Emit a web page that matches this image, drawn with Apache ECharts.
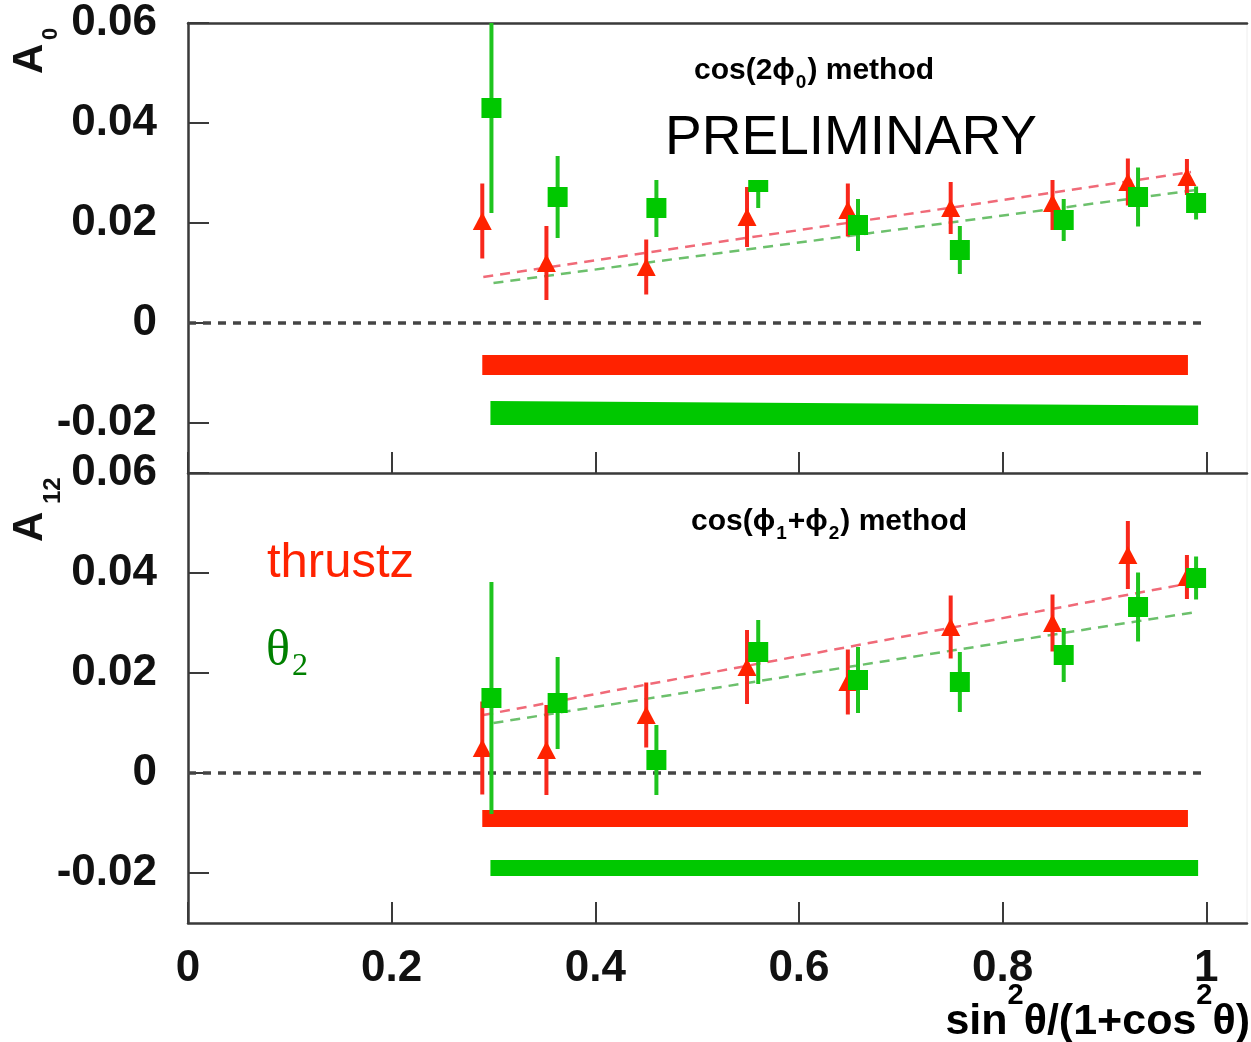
<!DOCTYPE html>
<html>
<head>
<meta charset="utf-8">
<script src="https://cdn.jsdelivr.net/npm/echarts@6/dist/echarts.min.js"></script>
<style>
  html, body { margin: 0; padding: 0; background: #fff; }
  #chart { width: 1251px; height: 1042px; }
</style>
</head>
<body>
<div id="chart"></div>
<script>
// Axis ticks
const xTicks = [0, 0.2, 0.4, 0.6, 0.8, 1];
const yTicks = [-0.02, 0, 0.02, 0.04, 0.06];

// cos(2phi0) method: thrust-axis (red) and theta2 (green) asymmetries
const thrustA0X   = [0.289, 0.352, 0.450, 0.549, 0.648, 0.749, 0.849, 0.923, 0.981];
const thrustA0Y   = [0.0204, 0.0120, 0.0112, 0.0212, 0.0226, 0.0230, 0.0240, 0.0282, 0.0292];
const thrustA0Err = [0.0075, 0.0074, 0.0055, 0.0060, 0.0053, 0.0052, 0.0054, 0.0047, 0.0036];
const thetaA0X    = [0.298, 0.363, 0.460, 0.560, 0.658, 0.758, 0.860, 0.933, 0.990];
const thetaA0Y    = [0.0430, 0.0252, 0.0230, 0.0282, 0.0196, 0.0146, 0.0206, 0.0252, 0.0240];
const thetaA0Err  = [0.0210, 0.0082, 0.0058, 0.0052, 0.0052, 0.0048, 0.0042, 0.0059, 0.0033];
const thrustA0Fit = [[0.290, 0.0092], [0.985, 0.0302]];
const thetaA0Fit  = [[0.300, 0.0080], [0.990, 0.0266]];
// systematic bands: [xStart, xEnd, lowStart, highStart, lowEnd, highEnd]
const thrustA0Sys = [0.289, 0.982, -0.0104, -0.0064, -0.0104, -0.0064];
const thetaA0Sys  = [0.297, 0.992, -0.0204, -0.0156, -0.0204, -0.0165];

// cos(phi1+phi2) method
const thrustA12X   = [0.289, 0.352, 0.450, 0.549, 0.648, 0.749, 0.849, 0.923, 0.981];
const thrustA12Y   = [0.0050, 0.0046, 0.0116, 0.0212, 0.0182, 0.0292, 0.0300, 0.0436, 0.0392];
const thrustA12Err = [0.0093, 0.0090, 0.0065, 0.0074, 0.0065, 0.0063, 0.0057, 0.0068, 0.0044];
const thetaA12X    = [0.298, 0.363, 0.460, 0.560, 0.658, 0.758, 0.860, 0.933, 0.990];
const thetaA12Y    = [0.0150, 0.0140, 0.0026, 0.0242, 0.0186, 0.0182, 0.0236, 0.0332, 0.0390];
const thetaA12Err  = [0.0232, 0.0092, 0.0070, 0.0064, 0.0066, 0.0060, 0.0054, 0.0069, 0.0043];
const thrustA12Fit = [[0.290, 0.0116], [0.985, 0.0380]];
const thetaA12Fit  = [[0.300, 0.0100], [0.990, 0.0322]];
const thrustA12Sys = [0.289, 0.982, -0.0108, -0.0074, -0.0108, -0.0074];
const thetaA12Sys  = [0.297, 0.992, -0.0206, -0.0174, -0.0206, -0.0174];

const zeroLine = [[0, 0], [1, 0]];

const RED = '#ff2200';
const RED_BAR = '#f8281c';
const GREEN = '#00c800';
const GREEN_BAR = '#1ec41e';
const AXIS = '#3a3a3a';
const FONT = 'Liberation Sans, Arial, Helvetica, sans-serif';

function zip(xs, ys, es) {
  return xs.map((x, i) => es ? [x, ys[i], es[i]] : [x, ys[i]]);
}

function errorBarItem(params, api) {
  const x = api.value(0), y = api.value(1), e = api.value(2);
  const p1 = api.coord([x, y + e]);
  const p2 = api.coord([x, y - e]);
  return {
    type: 'line',
    shape: { x1: p1[0], y1: p1[1], x2: p2[0], y2: p2[1] },
    style: { stroke: api.visual('color'), lineWidth: 4 }
  };
}

function bandItem(params, api) {
  const x0 = api.value(0), x1 = api.value(1);
  const pts = [
    api.coord([x0, api.value(3)]),
    api.coord([x1, api.value(5)]),
    api.coord([x1, api.value(4)]),
    api.coord([x0, api.value(2)])
  ];
  return { type: 'polygon', shape: { points: pts }, style: { fill: api.visual('color') } };
}

function panelSeries(idx, d) {
  const ax = { xAxisIndex: idx === 0 ? 0 : 2, yAxisIndex: idx };
  return [
    { type: 'custom', ...ax, renderItem: bandItem, data: [d.rSys], itemStyle: { color: RED }, z: 1, silent: true },
    { type: 'custom', ...ax, renderItem: bandItem, data: [d.gSys], itemStyle: { color: GREEN }, z: 1, silent: true },
    { type: 'line', ...ax, data: zeroLine, symbol: 'none', silent: true, z: 2,
      lineStyle: { color: '#444', width: 3.5, type: [8, 7] } },
    { type: 'line', ...ax, data: d.rFit, symbol: 'none', silent: true, z: 2,
      lineStyle: { color: '#f06a78', width: 2.5, type: [10, 7] } },
    { type: 'line', ...ax, data: d.gFit, symbol: 'none', silent: true, z: 2,
      lineStyle: { color: '#6cc06c', width: 2.5, type: [10, 7] } },
    { type: 'custom', ...ax, renderItem: errorBarItem, clip: true, z: 3,
      data: zip(d.rx, d.ry, d.re), itemStyle: { color: RED_BAR } },
    { type: 'scatter', ...ax, data: zip(d.rx, d.ry), symbol: 'triangle', symbolSize: [19, 18], z: 4,
      itemStyle: { color: RED, opacity: 1 } },
    { type: 'custom', ...ax, renderItem: errorBarItem, clip: true, z: 5,
      data: zip(d.gx, d.gy, d.ge), itemStyle: { color: GREEN_BAR } },
    { type: 'scatter', ...ax, data: zip(d.gx, d.gy), symbol: 'rect', symbolSize: [20, 20], z: 6,
      itemStyle: { color: GREEN, opacity: 1 } }
  ];
}

const yLabel = {
  customValues: yTicks, margin: 31, color: '#111',
  fontFamily: FONT, fontWeight: 'bold', fontSize: 44,
  formatter: v => (v === 0 ? '0' : v.toFixed(2))
};
const yTick = { customValues: yTicks, inside: true, length: 21, lineStyle: { color: AXIS, width: 2 } };
const axisLine = { show: true, onZero: false, lineStyle: { color: AXIS, width: 2.5 } };

function yAxisFor(gi) {
  return {
    type: 'value', gridIndex: gi, min: -0.03, max: 0.06,
    axisLine, axisTick: yTick, axisLabel: yLabel, splitLine: { show: false }
  };
}

const xTick = { customValues: xTicks, inside: true, length: 21, lineStyle: { color: AXIS, width: 2 } };

const methodRich = {
  m: { fontFamily: FONT, fontWeight: 'bold', fontSize: 30, color: '#222', lineHeight: 32, verticalAlign: 'top' },
  s: { fontFamily: FONT, fontWeight: 'bold', fontSize: 19, color: '#222', lineHeight: 22, padding: [17, 1, 0, 1], verticalAlign: 'top' }
};

const titleRich = {
  m: { fontFamily: FONT, fontWeight: 'bold', fontSize: 43, color: '#111', lineHeight: 46, padding: [20, 0, 0, 0], verticalAlign: 'top' },
  p: { fontFamily: FONT, fontWeight: 'bold', fontSize: 29, color: '#111', lineHeight: 30, verticalAlign: 'top' }
};

const option = {
  animation: false,
  backgroundColor: '#fff',
  grid: [
    { left: 188, top: 23, width: 1059, height: 450, show: true, borderColor: '#eeeeee', borderWidth: 1 },
    { left: 188, top: 473, width: 1059, height: 450, show: true, borderColor: '#eeeeee', borderWidth: 1 }
  ],
  xAxis: [
    { type: 'value', gridIndex: 0, min: 0, max: 1.04, position: 'bottom',
      axisLine, axisTick: xTick, axisLabel: { show: false }, splitLine: { show: false } },
    { type: 'value', gridIndex: 0, min: 0, max: 1.04, position: 'top',
      axisLine, axisTick: { show: false }, axisLabel: { show: false }, splitLine: { show: false } },
    { type: 'value', gridIndex: 1, min: 0, max: 1.04, position: 'bottom',
      axisLine, axisTick: xTick, splitLine: { show: false },
      axisLabel: { customValues: xTicks, margin: 24, color: '#111', fontFamily: FONT,
                   fontWeight: 'bold', fontSize: 44, formatter: v => String(v) } }
  ],
  yAxis: [yAxisFor(0), yAxisFor(1)],
  series: [
    ...panelSeries(0, {
      rx: thrustA0X, ry: thrustA0Y, re: thrustA0Err, gx: thetaA0X, gy: thetaA0Y, ge: thetaA0Err,
      rFit: thrustA0Fit, gFit: thetaA0Fit, rSys: thrustA0Sys, gSys: thetaA0Sys
    }),
    ...panelSeries(1, {
      rx: thrustA12X, ry: thrustA12Y, re: thrustA12Err, gx: thetaA12X, gy: thetaA12Y, ge: thetaA12Err,
      rFit: thrustA12Fit, gFit: thetaA12Fit, rSys: thrustA12Sys, gSys: thetaA12Sys
    })
  ],
  graphic: [
    // panel captions
    { type: 'text', z: 50, style: { x: 814, y: 72, text: '{m|cos(2ϕ}{s|0}{m|) method}', rich: methodRich,
        align: 'center', verticalAlign: 'middle' } },
    { type: 'text', z: 50, style: { x: 829, y: 523, text: '{m|cos(ϕ}{s|1}{m|+ϕ}{s|2}{m|) method}', rich: methodRich,
        align: 'center', verticalAlign: 'middle' } },
    // preliminary stamp on a white box
    { type: 'rect', z: 60, shape: { x: 645, y: 98, width: 432, height: 82 }, style: { fill: '#fff' } },
    { type: 'text', z: 61, style: { x: 851, y: 139, text: 'PRELIMINARY', fill: '#000',
        font: '55px ' + FONT, align: 'center', verticalAlign: 'middle' } },
    // series key
    { type: 'text', z: 50, style: { x: 267, y: 563, text: 'thrustz', fill: '#ff2200',
        font: '49px ' + FONT, align: 'left', verticalAlign: 'middle' } },
    { type: 'text', z: 50, style: { x: 266, y: 652, text: 'θ', fill: '#008000',
        font: '50px Liberation Serif, Times New Roman, serif', align: 'left', verticalAlign: 'middle' } },
    { type: 'text', z: 50, style: { x: 292, y: 667, text: '2', fill: '#008000',
        font: '32px Liberation Serif, Times New Roman, serif', align: 'left', verticalAlign: 'middle' } },
    // y-axis names
    { type: 'text', z: 50, x: 30, y: 74, rotation: Math.PI / 2,
      style: { x: 0, y: 0, text: 'A', fill: '#111', font: 'bold 42px ' + FONT, align: 'left', verticalAlign: 'middle' } },
    { type: 'text', z: 50, x: 51, y: 40, rotation: Math.PI / 2,
      style: { x: 0, y: 0, text: '0', fill: '#111', font: 'bold 22px ' + FONT, align: 'left', verticalAlign: 'middle' } },
    { type: 'text', z: 50, x: 30, y: 542, rotation: Math.PI / 2,
      style: { x: 0, y: 0, text: 'A', fill: '#111', font: 'bold 42px ' + FONT, align: 'left', verticalAlign: 'middle' } },
    { type: 'text', z: 50, x: 53, y: 504, rotation: Math.PI / 2,
      style: { x: 0, y: 0, text: '12', fill: '#111', font: 'bold 24px ' + FONT, align: 'left', verticalAlign: 'middle' } },
    // x-axis name
    { type: 'text', z: 50, style: { x: 1250, y: 1027, text: '{m|sin}{p|2}{m|θ/(1+cos}{p|2}{m|θ)}',
        rich: titleRich, align: 'right', verticalAlign: 'bottom' } }
  ]
};

const chart = echarts.init(document.getElementById('chart'), null, { renderer: 'canvas' });
chart.setOption(option);
</script>
</body>
</html>
